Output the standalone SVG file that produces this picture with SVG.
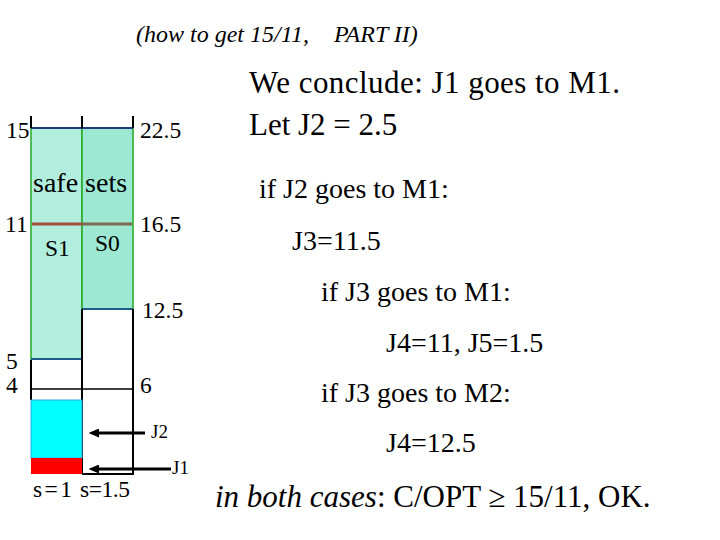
<svg xmlns="http://www.w3.org/2000/svg" width="720" height="540" viewBox="0 0 720 540">
<style>
text{font-family:"Liberation Serif","Times New Roman",serif;fill:#000}
.lbl{font-size:23.5px}
.big{font-size:31px}
.mid{font-size:28px}
.blk{stroke:#000;stroke-width:2;fill:none}
.grn{stroke:#22aa22;stroke-width:1.5}
</style>
<defs>
<marker id="ah" viewBox="0 0 10 10" refX="0" refY="5" markerWidth="3.5" markerHeight="3" orient="auto" preserveAspectRatio="none">
<path d="M0,0 L10,5 L0,10 Z" fill="#000"/>
</marker>
</defs>
<rect width="720" height="540" fill="#fff"/>
<text x="136" y="42" font-size="24" font-style="italic">(how to get 15/11,<tspan x="334">PART II)</tspan></text>

<g id="bins">
<rect x="31" y="128" width="51" height="231" fill="#b2eedd" class="grn"/>
<rect x="82" y="128" width="51" height="181" fill="#9ce8d2" class="grn"/>
<line x1="31" y1="128" x2="133" y2="128" stroke="#1f3a7a" stroke-width="2"/>
<line x1="31" y1="116" x2="31" y2="128" class="blk"/>
<line x1="82" y1="116" x2="82" y2="128" class="blk"/>
<line x1="133" y1="116" x2="133" y2="128" class="blk"/>
<line x1="32" y1="224" x2="82" y2="224" stroke="#a0523d" stroke-width="3"/>
<line x1="82" y1="224" x2="132" y2="224" stroke="#7f6a52" stroke-width="3"/>
<line x1="31" y1="359" x2="82" y2="359" stroke="#1f5a8a" stroke-width="2"/>
<line x1="82" y1="309" x2="133" y2="309" stroke="#1f5a8a" stroke-width="2"/>
<line x1="31" y1="360" x2="31" y2="400" class="blk"/>
<line x1="82" y1="309" x2="82" y2="474" class="blk"/>
<line x1="133" y1="309" x2="133" y2="475" class="blk"/>
<line x1="31" y1="389" x2="133" y2="389" stroke="#000" stroke-width="1.5"/>
<line x1="82" y1="474" x2="133" y2="474" class="blk"/>
<rect x="31" y="400" width="51" height="58" fill="#00ffff" stroke="#33a8e8" stroke-width="1"/>
<rect x="31" y="458" width="51" height="16" fill="#ff0000"/>
</g>

<g id="bin-labels">
<text class="lbl" x="6" y="138">15</text>
<text class="lbl" x="140" y="138">22.5</text>
<text x="33" y="192" font-size="28">safe sets</text>
<text class="lbl" x="5" y="232">11</text>
<text class="lbl" x="140" y="232">16.5</text>
<text class="lbl" x="45" y="256">S1</text>
<text class="lbl" x="95" y="251">S0</text>
<text class="lbl" x="142" y="318">12.5</text>
<text class="lbl" x="6" y="369">5</text>
<text class="lbl" x="6" y="393">4</text>
<text class="lbl" x="140" y="393">6</text>
<text class="lbl" x="33" y="497" textLength="39" lengthAdjust="spacing">s=1</text>
<text class="lbl" x="80" y="497" textLength="50" lengthAdjust="spacing">s=1.5</text>
</g>

<g id="connectors">
<line x1="145" y1="433" x2="99" y2="433" stroke="#000" stroke-width="3" marker-end="url(#ah)"/>
<line x1="171" y1="469" x2="99" y2="469" stroke="#000" stroke-width="3" marker-end="url(#ah)"/>
</g>
<g id="arrow-labels">
<text x="151" y="438" font-size="19">J2</text>
<text x="172" y="474" font-size="19">J1</text>
</g>

<g id="text">
<text class="big" x="249" y="93" textLength="371" lengthAdjust="spacing">We conclude: J1 goes to M1.</text>
<text class="big" x="249" y="135">Let J2 = 2.5</text>
<text class="mid" x="259" y="198">if J2 goes to M1:</text>
<text class="mid" x="292" y="250">J3=11.5</text>
<text class="mid" x="321" y="301">if J3 goes to M1:</text>
<text class="mid" x="386" y="352">J4=11, J5=1.5</text>
<text class="mid" x="321" y="402">if J3 goes to M2:</text>
<text class="mid" x="386" y="452">J4=12.5</text>
<text font-size="31" x="215" y="507"><tspan font-style="italic">in both cases</tspan>: C/OPT ≥ 15/11, OK.</text>
</g>
</svg>
